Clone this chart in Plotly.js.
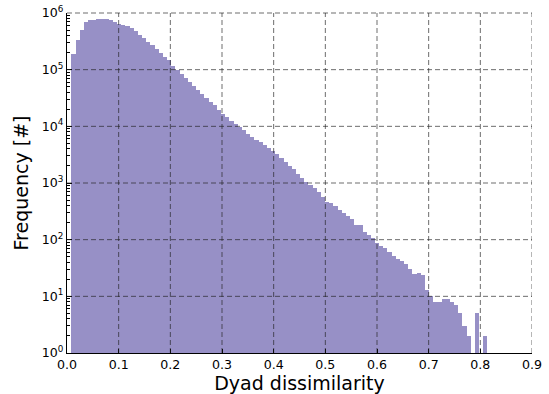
<!DOCTYPE html>
<html>
<head>
<meta charset="utf-8">
<script src="https://cdn.plot.ly/plotly-3.0.1.min.js"></script>
<style>
  html, body { margin: 0; padding: 0; background: #ffffff; }
  #chart { width: 549px; height: 394px; }
</style>
</head>
<body>
<div id="chart"></div>
<script>
// Histogram of dyad dissimilarity (100 bins), counts
const binStart = 0.0085;
const binWidth = 0.00805;
const counts = [
  190000, 340000, 500000, 690000, 760000, 765000, 775000, 775000, 770000, 740000,
  690000, 650000, 615000, 590000, 550000, 480000, 415000, 355000, 310000, 270000,
  235000, 200000, 166000, 150000, 117000, 100000, 85000, 72000, 60000, 52500,
  44000, 37000, 31600, 27000, 23400, 19500, 16600, 14500, 12300, 10800,
  9600, 8500, 7300, 6500, 5800, 5200, 4700, 4200, 3700, 3300,
  2750, 2350, 1980, 1740, 1420, 1220, 1050, 910, 810, 690,
  575, 470, 440, 400, 340, 295, 257, 234, 182, 182,
  135, 120, 105, 87, 78, 70, 60, 51, 46, 42,
  37, 30, 25, 26, 24, 13, 10, 8, 8, 9,
  9, 8, 7, 5, 3, 2, 0, 5, 0, 2
];

const xTickVals = [0.0, 0.1, 0.2, 0.3, 0.4, 0.5, 0.6, 0.7, 0.8, 0.9];
const yTickVals = [1, 10, 100, 1000, 10000, 100000, 1000000];
const yTickText = ['10<sup>0</sup>', '10<sup>1</sup>', '10<sup>2</sup>', '10<sup>3</sup>',
                   '10<sup>4</sup>', '10<sup>5</sup>', '10<sup>6</sup>'];
const xRange = [0, 0.9];
const yLogRange = [0, 6];

const minorVals = [];
yTickVals.slice(0, -1).forEach(d => { for (let m = 2; m <= 9; m++) minorVals.push(d * m); });

const gridStyle = { color: 'rgba(30,30,30,0.65)', width: 1, dash: '5px,3px' };
const shapes = [];
xTickVals.slice(1).forEach(v => shapes.push({
  type: 'line', layer: 'above', xref: 'x', yref: 'paper', x0: v, x1: v, y0: 0, y1: 1, line: gridStyle
}));
yTickVals.slice(1).forEach(v => {
  const p = (Math.log10(v) - yLogRange[0]) / (yLogRange[1] - yLogRange[0]);
  shapes.push({ type: 'line', layer: 'above', xref: 'paper', yref: 'paper', x0: 0, x1: 1, y0: p, y1: p, line: gridStyle });
});

const font = 'DejaVu Sans, sans-serif';

const trace = {
  type: 'bar',
  x0: binStart + binWidth / 2,
  dx: binWidth,
  y: counts,
  width: binWidth,
  marker: { color: '#9790c6', line: { width: 0 } },
  hoverinfo: 'x+y'
};

const layout = {
  width: 549, height: 394,
  margin: { l: 67, r: 17, t: 13, b: 41 },
  paper_bgcolor: '#ffffff', plot_bgcolor: '#ffffff',
  showlegend: false,
  bargap: 0,
  font: { family: font, color: '#000', size: 12.6 },
  shapes: shapes,
  xaxis: {
    range: xRange, tickvals: xTickVals, tickformat: '.1f',
    ticks: 'inside', ticklen: 4, tickcolor: '#000', tickwidth: 1,
    showgrid: false, zeroline: false,
    showline: true, linecolor: '#000', linewidth: 1,
    tickfont: { family: font, size: 12.6, color: '#000' },
    title: { text: 'Dyad dissimilarity', font: { family: font, size: 19, color: '#000' }, standoff: 4 }
  },
  yaxis: {
    type: 'log', range: yLogRange,
    tickmode: 'array', tickvals: yTickVals, ticktext: yTickText,
    ticks: 'inside', ticklen: 5, tickcolor: '#000', tickwidth: 1,
    minor: { tickmode: 'array', tickvals: minorVals, ticks: 'inside', ticklen: 2.5, tickcolor: '#000', showgrid: false },
    showgrid: false, zeroline: false,
    showline: true, linecolor: '#000', linewidth: 1,
    tickfont: { family: font, size: 12.6, color: '#000' },
    title: { text: 'Frequency [#]', font: { family: font, size: 19, color: '#000' }, standoff: 8 }
  }
};

Plotly.newPlot('chart', [trace], layout, { displayModeBar: false, staticPlot: true });
</script>
</body>
</html>
